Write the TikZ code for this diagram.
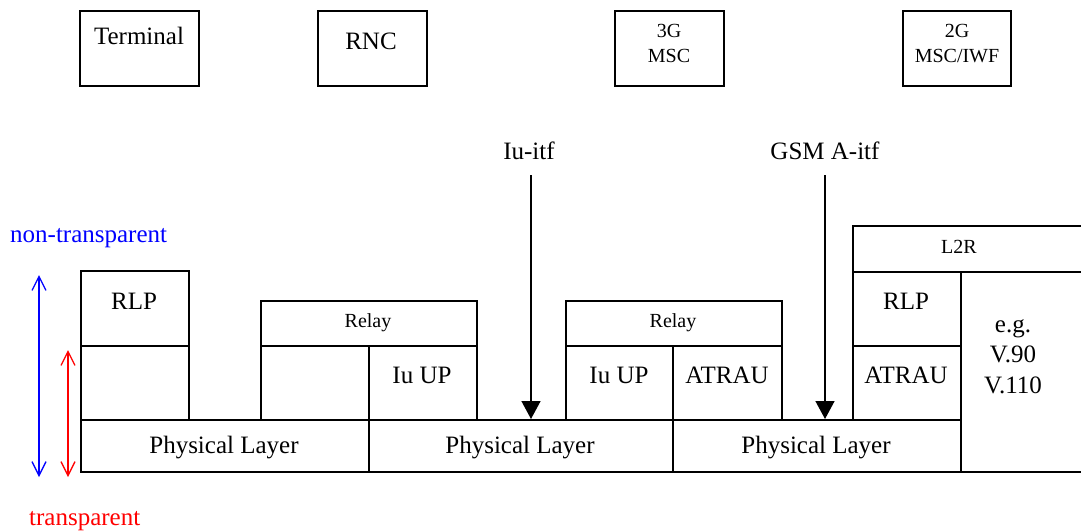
\documentclass[tikz,border=0pt]{standalone}
\usepackage{fontspec}
\setmainfont{Liberation Serif}
\usetikzlibrary{arrows.meta}
\begin{document}
\begin{tikzpicture}[x=1pt,y=-1pt,
  box/.style={draw, line width=1.5pt, inner sep=0pt, anchor=north west},
  big/.style={anchor=base, inner sep=0pt, font=\fontsize{25}{30}\selectfont},
  small/.style={anchor=base, inner sep=0pt, font=\fontsize{20}{24}\selectfont},
  itf/.style={line width=1.5pt, -{Triangle[width=19pt,length=18pt]}},
  span/.style={line width=1.3pt, {Straight Barb[length=14pt,width=14pt,line width=1.3pt]}-{Straight Barb[length=14pt,width=14pt,line width=1.3pt]}}
]
\useasboundingbox (0,0) rectangle (1081,530);
\clip (0,0) rectangle (1081,530);
% top entities
\node[box, minimum width=119pt, minimum height=75pt] (term) at (79,10) {};
\node[box, minimum width=109pt, minimum height=75pt] (rnc) at (317,10) {};
\node[box, minimum width=109pt, minimum height=75pt] (msc3) at (614,10) {};
\node[box, minimum width=108pt, minimum height=75pt] (msc2) at (902,10) {};
\node[big] (termt) at (139,44) {Terminal};
\node[big] (rnct) at (371,49) {RNC};
\node[small] (msc3a) at (669,37) {3G};
\node[small] (msc3b) at (669,62) {MSC};
\node[small] (msc2a) at (957,37) {2G};
\node[small] (msc2b) at (957,62) {MSC/IWF};
% terminal stack
\node[box, minimum width=108pt, minimum height=75pt] (rlpA) at (80,270) {};
\node[box, minimum width=108pt, minimum height=74pt] (emptyA) at (80,345) {};
\node[big] (rlpAt) at (134,309) {RLP};
% RNC stack
\node[box, minimum width=216pt, minimum height=45pt] (relayB) at (260,300) {};
\node[box, minimum width=108pt, minimum height=74pt] (emptyB) at (260,345) {};
\node[box, minimum width=108pt, minimum height=74pt] (iuupB) at (368,345) {};
\node[small] (relayBt) at (368,327) {Relay};
\node[big] (iuupBt) at (422,383) {Iu UP};
% 3G MSC stack
\node[box, minimum width=216pt, minimum height=45pt] (relayC) at (565,300) {};
\node[box, minimum width=107pt, minimum height=74pt] (iuupC) at (565,345) {};
\node[box, minimum width=109pt, minimum height=74pt] (atrauC) at (672,345) {};
\node[small] (relayCt) at (673,327) {Relay};
\node[big] (iuupCt) at (619,383) {Iu UP};
\node[big] (atrauCt) at (727,383) {ATRAU};
% 2G MSC stack
\node[box, minimum width=240pt, minimum height=46pt] (l2r) at (852,225) {};
\node[box, minimum width=108pt, minimum height=74pt] (rlpD) at (852,271) {};
\node[box, minimum width=108pt, minimum height=74pt] (atrauD) at (852,345) {};
\node[box, minimum width=132pt, minimum height=200pt] (vbox) at (960,271) {};
\node[small] (l2rt) at (959,253) {L2R};
\node[big] (rlpDt) at (906,309) {RLP};
\node[big] (atrauDt) at (906,383) {ATRAU};
\node[big] (vt1) at (1013,332) {e.g.};
\node[big] (vt2) at (1013,362) {V.90};
\node[big] (vt3) at (1013,393) {V.110};
% physical layers
\node[box, minimum width=288pt, minimum height=52pt] (pl1) at (80,419) {};
\node[box, minimum width=304pt, minimum height=52pt] (pl2) at (368,419) {};
\node[box, minimum width=288pt, minimum height=52pt] (pl3) at (672,419) {};
\node[big] (pl1t) at (224,453) {Physical Layer};
\node[big] (pl2t) at (520,453) {Physical Layer};
\node[big] (pl3t) at (816,453) {Physical Layer};
% interfaces
\node[big] (iul) at (529,159) {Iu-itf};
\node[big] (gsml) at (825,159) {GSM A-itf};
\coordinate (iutop) at (531,175);
\coordinate (gsmtop) at (825,175);
\draw[itf] (iutop) -- (iutop |- pl2.north);
\draw[itf] (gsmtop) -- (gsmtop |- pl3.north);
% transparency
\node[big, anchor=base west, text=blue] (ntl) at (10,242) {non-transparent};
\node[big, anchor=base west, text=red] (tl) at (29,525) {transparent};
\coordinate (bt) at (39,275);
\coordinate (bb) at (39,477);
\coordinate (rt) at (68,350);
\coordinate (rb) at (68,477);
\draw[span, blue] (bt) -- (bb);
\draw[span, red] (rt) -- (rb);
\end{tikzpicture}
\end{document}
